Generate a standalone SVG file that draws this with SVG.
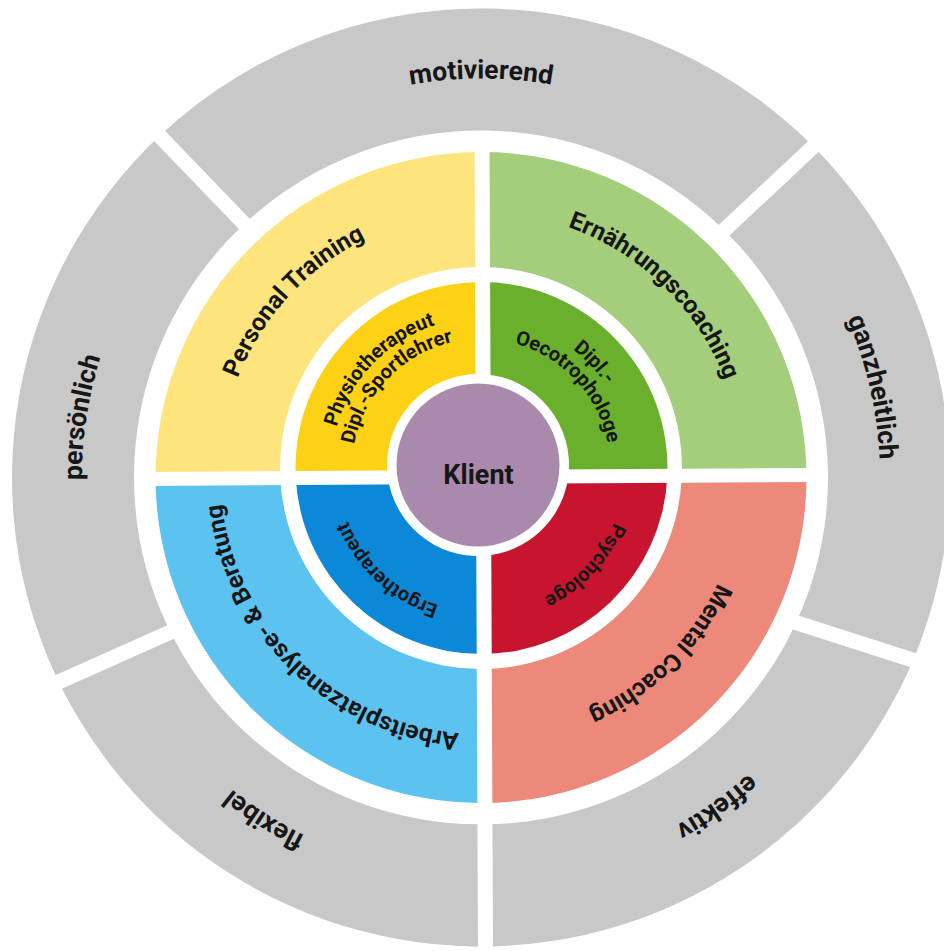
<svg xmlns="http://www.w3.org/2000/svg" width="944" height="951" viewBox="0 0 944 951">
<style>
.t{font-family:Roboto,"Open Sans","DejaVu Sans",sans-serif;font-weight:700;fill:#161616}
.tg{font-size:26.5px}
.tm{font-size:24.5px}
.ti{font-size:20px}
.grey{fill:#c8c8c8}
.gap{stroke:#ffffff;stroke-width:15;fill:none}
</style>
<defs>
<path id="pG" d="M481,876.5 A399,399 0 1 1 481,78.5 A399,399 0 1 1 481,876.5"/>
<path id="pM" d="M481,734 A261,261 0 1 1 481,212 A261,261 0 1 1 481,734"/>
<path id="pI1" d="M481,618 A150,150 0 1 1 481,318 A150,150 0 1 1 481,618"/>
<path id="pI2" d="M481,597 A129,129 0 1 1 481,339 A129,129 0 1 1 481,597"/>
<path id="pI3" d="M481,611.5 A143.5,143.5 0 1 1 481,324.5 A143.5,143.5 0 1 1 481,611.5"/>
</defs>
<rect width="944" height="951" fill="#ffffff"/>

<g id="motivierend">
<path class="grey" d="M143.63,151.70 A469,469 0 0 1 829.53,163.68 L738.87,245.31 A347,347 0 0 0 231.39,236.45 Z"/>
<g transform="rotate(0 481 477.5)"><text class="t tg"><textPath href="#pG" startOffset="50%" text-anchor="middle">motivierend</textPath></text></g>
</g>
<g id="ganzheitlich">
<path class="grey" d="M794.82,128.97 A469,469 0 0 1 898.88,690.42 L790.18,635.03 A347,347 0 0 0 713.19,219.63 Z"/>
<g transform="rotate(77 481 477.5)"><text class="t tg"><textPath href="#pG" startOffset="50%" text-anchor="middle">ganzheitlich</textPath></text></g>
</g>
<g id="effektiv">
<path class="grey" d="M921.72,637.91 A469,469 0 0 1 456.45,945.86 L462.84,824.02 A347,347 0 0 0 807.07,596.18 Z"/>
<g transform="rotate(144.4 481 477.5)"><text class="t tg"><textPath href="#pG" startOffset="50%" text-anchor="middle">effektiv</textPath></text></g>
</g>
<g id="flexibel">
<path class="grey" d="M505.55,945.86 A469,469 0 0 1 46.15,653.19 L159.27,607.49 A347,347 0 0 0 499.16,824.02 Z"/>
<g transform="rotate(212.4 481 477.5)"><text class="t tg"><textPath href="#pG" startOffset="50%" text-anchor="middle">flexibel</textPath></text></g>
</g>
<g id="persoenlich">
<path class="grey" d="M74.83,712 A469,469 0 0 1 179.53,118.23 L257.95,211.68 A347,347 0 0 0 180.49,651 Z"/>
<g transform="rotate(278.6 481 477.5)"><text class="t tg"><textPath href="#pG" startOffset="50%" text-anchor="middle">persönlich</textPath></text></g>
</g>

<g id="personal-training">
<path fill="#fde47d" d="M155.5,477 A325.5,325.5 0 0 1 483,152.01 L483,267.01 A201,201 0 0 0 280.2,477 Z"/>
<g transform="rotate(312.5 481 473)"><text class="t tm"><textPath href="#pM" startOffset="50%" text-anchor="middle">Personal Training</textPath></text></g>
</g>
<g id="ernaehrungscoaching">
<path fill="#a4cd7c" d="M483,152.01 A325.5,325.5 0 0 1 806.5,477 L681.8,477 A201,201 0 0 0 483,267.01 Z"/>
<g transform="rotate(44.3 481 473)"><text class="t tm"><textPath href="#pM" startOffset="50%" text-anchor="middle">Ernährungscoaching</textPath></text></g>
</g>
<g id="mental-coaching">
<path fill="#ec897b" d="M806.5,477 A325.5,325.5 0 0 1 483,802.99 L483,668.99 A201,201 0 0 0 681.8,477 Z"/>
<g transform="rotate(135.3 481 473)"><text class="t tm"><textPath href="#pM" startOffset="50%" text-anchor="middle">Mental Coaching</textPath></text></g>
</g>
<g id="arbeitsplatzanalyse">
<path fill="#5cc3f0" d="M483,802.99 A325.5,325.5 0 0 1 155.5,477 L280.2,477 A201,201 0 0 0 483,668.99 Z"/>
<g transform="rotate(224 481 473)"><text class="t tm"><textPath href="#pM" startOffset="50%" text-anchor="middle">Arbeitsplatzanalyse- &amp; Beratung</textPath></text></g>
</g>

<g id="physiotherapeut">
<path fill="#fcd116" d="M295.72,477 A186,186 0 0 1 483,282.01 L483,374.14 A91,91 0 0 0 387.8,477 Z"/>
<g transform="rotate(314 481 468)">
<text class="t ti"><textPath href="#pI1" startOffset="50%" text-anchor="middle">Physiotherapeut</textPath></text>
<text class="t ti"><textPath href="#pI2" startOffset="50%" text-anchor="middle">Dipl.-Sportlehrer</textPath></text>
</g>
</g>
<g id="oecotrophologe">
<path fill="#6ab02c" d="M483,282.01 A186,186 0 0 1 667.28,477 L568.2,477 A91,91 0 0 0 483,374.14 Z"/>
<g transform="rotate(47 481 468)">
<text class="t ti"><textPath href="#pI1" startOffset="50%" text-anchor="middle">Dipl.-</textPath></text>
<text class="t ti"><textPath href="#pI2" startOffset="50%" text-anchor="middle">Oecotrophologe</textPath></text>
</g>
</g>
<g id="psychologe">
<path fill="#c7142f" d="M667.28,477 A186,186 0 0 1 483,653.99 L483,555.86 A91,91 0 0 0 568.2,477 Z"/>
<g transform="rotate(133.2 481 468)"><text class="t ti"><textPath href="#pI3" startOffset="50%" text-anchor="middle">Psychologe</textPath></text></g>
</g>
<g id="ergotherapeut">
<path fill="#0b88d8" d="M483,653.99 A186,186 0 0 1 295.72,477 L387.8,477 A91,91 0 0 0 483,555.86 Z"/>
<g transform="rotate(222.7 481 468)"><text class="t ti"><textPath href="#pI3" startOffset="50%" text-anchor="middle">Ergotherapeut</textPath></text></g>
</g>

<g id="gaps">
<line class="gap" x1="140.2" y1="115.9" x2="256.9" y2="236.9"/>
<line class="gap" x1="836.9" y1="124.5" x2="719.2" y2="234.8"/>
<line class="gap" x1="788.4" y1="620.1" x2="950" y2="672"/>
<line class="gap" x1="32.6" y1="693.7" x2="174.8" y2="630.2"/>
<line class="gap" x1="482" y1="145" x2="485.5" y2="951"/>
<line class="gap" x1="145" y1="479" x2="815" y2="475" style="stroke-width:14"/>
</g>

<g id="klient">
<circle cx="478" cy="465" r="81.5" fill="#a98aac"/>
<text class="t" x="478.5" y="484" text-anchor="middle" style="font-size:27px">Klient</text>
</g>
</svg>
